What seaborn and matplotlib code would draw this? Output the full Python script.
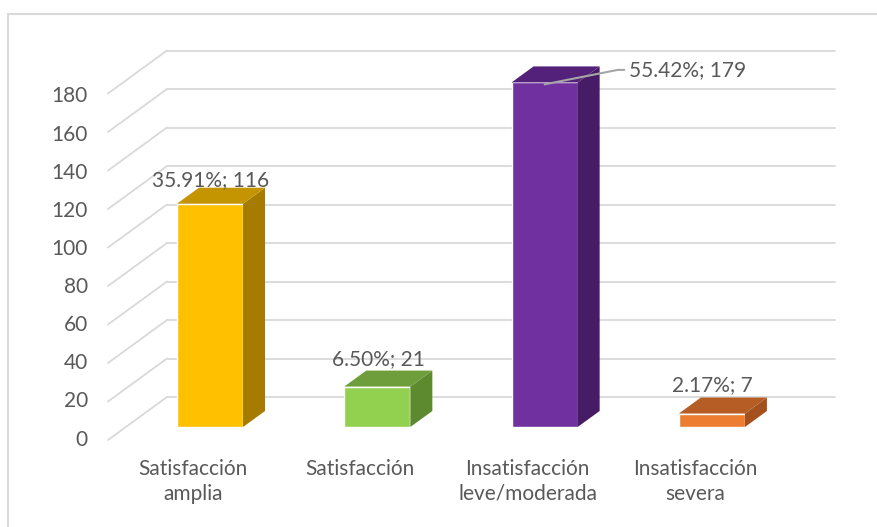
import numpy as np
import pandas as pd
import matplotlib
matplotlib.use("Agg")
import matplotlib.pyplot as plt
from matplotlib.patches import Polygon, Rectangle
import seaborn as sns

categories = ["Satisfacción\namplia", "Satisfacción", "Insatisfacción\nleve/moderada", "Insatisfacción\nsevera"]
counts = [116, 21, 179, 7]
percents = ["35.91%", "6.50%", "55.42%", "2.17%"]
front_colors = ["#FFC000", "#92D050", "#7030A0", "#ED7D31"]
side_colors = ["#A67C00", "#5E8A2F", "#461C66", "#A4511D"]
top_colors = ["#C49500", "#6E9E3C", "#53217A", "#B55D25"]
yticks = list(range(0, 181, 20))

sns.set_theme(style="white")
plt.rcParams["font.family"] = ["Lato", "DejaVu Sans"]
txt = "#595959"
grid = "#D9D9D9"
fs = 15

df = pd.DataFrame({"cat": categories, "n": counts})

fig = plt.figure(figsize=(8.77, 5.27), dpi=100)
ax = fig.add_axes([0, 0, 1, 1])

# pixel mapping helpers (x: category units, y: value units)
px_per_cat = 167.3
px_per_val = 1.925
bar_w = 0.395
dx = 22 / px_per_cat
dy = 16 / px_per_val

# back wall + diagonal gridlines
back_dy = 30 / px_per_val
front_dy = -13 / px_per_val
x_back = (167 - 210) / px_per_cat
x_front = (108 - 210) / px_per_cat
x_right = (835 - 210) / px_per_cat
for v in yticks:
    ax.plot([x_front, x_back], [v + front_dy, v + back_dy], color=grid, lw=1.3, zorder=1)
    ax.plot([x_back, x_right], [v + back_dy, v + back_dy], color=grid, lw=1.3, zorder=1)
    ax.text((88 - 210) / px_per_cat, v * 0.99 - 6.5, str(v), ha="right", va="center",
            fontsize=fs, color=txt)

sns.barplot(data=df, x="cat", y="n", hue="cat", palette=front_colors, width=bar_w,
            legend=False, ax=ax, saturation=1, zorder=3)

for i, (n, sc, tc) in enumerate(zip(counts, side_colors, top_colors)):
    l, r = i - bar_w / 2, i + bar_w / 2
    ax.add_patch(Polygon([(r, 0), (r + dx, dy), (r + dx, n + dy), (r, n)],
                         closed=True, fc=sc, ec="none", zorder=3))
    ax.add_patch(Polygon([(l, n), (l + dx, n + dy), (r + dx, n + dy), (r, n)],
                         closed=True, fc=tc, ec="none", zorder=3))

# data labels
label_gap = {0: 12.3, 1: 14.5, 3: 15.0}
for i, (n, p) in enumerate(zip(counts, percents)):
    s = f"{p}; {n}"
    if i == 2:
        x0, y0 = i, n - 1
        x1, y1 = i + (618 - 545) / px_per_cat, n + 6.5
        ax.plot([x0, x1, x1 + 0.04], [y0, y1, y1], color="#A6A6A6", lw=1.5, zorder=4)
        ax.text(x1 + 0.07, y1, s, ha="left", va="center", fontsize=fs, color=txt, zorder=5)
    else:
        ax.text(i + 0.005, n + label_gap[i], s, ha="center", va="center", fontsize=fs,
                color=txt, zorder=5)

# category labels
for i, c in enumerate(categories):
    ax.text(i - 17 / px_per_cat, -16.5, c, ha="center", va="top", fontsize=fs,
            color=txt, linespacing=1.3)

ax.set_xlim(-210 / px_per_cat, (877 - 210) / px_per_cat)
ax.set_ylim((427 - 527) / px_per_val, 427 / px_per_val)
ax.axis("off")

fig.patches.append(Rectangle((8 / 877, -0.1), 1.2, 1 - 14 / 527 + 0.1, transform=fig.transFigure,
                             fill=False, ec="#D9D9D9", lw=1.5))

fig.savefig("out.png", dpi=100)
